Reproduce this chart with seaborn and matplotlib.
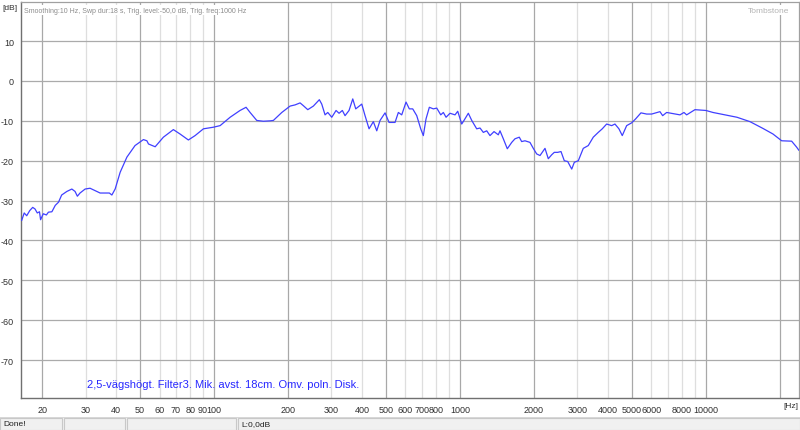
import matplotlib
matplotlib.use("Agg")
import matplotlib.pyplot as plt
import seaborn as sns
import pandas as pd
from matplotlib.patches import Rectangle

# frequency response (Hz, dB), ten values per row
freq_hz = [16.5, 16.9, 17.3, 17.8, 18.3, 18.7, 19.1, 19.5, 19.7, 20.2,
           20.8, 21.2, 21.9, 22.6, 23.3, 24.0, 25.2, 26.4, 27.2, 27.8,
           28.5, 29.9, 31.3, 32.8, 34.4, 36.1, 37.5, 38.4, 39.6, 41.5,
           44.2, 47.7, 51.6, 53.3, 54.1, 57.6, 62.2, 68.3, 72.7, 78.6,
           83.7, 90.5, 99.3, 105.8, 116.2, 127.5, 134.9, 140.1, 149.1, 158.6,
           168.9, 174.2, 188.5, 203.7, 213.5, 223.7, 230.7, 240.4, 253.3, 267.9,
           274.0, 282.6, 289.9, 301.0, 313.3, 322.2, 332.3, 340.8, 353.8, 366.3,
           376.7, 398.5, 411.0, 426.7, 444.2, 458.6, 473.0, 495.7, 514.6, 535.7,
           544.2, 561.4, 579.4, 603.2, 622.1, 642.2, 666.8, 692.2, 709.3, 727.5,
           750.4, 779.0, 804.2, 834.9, 855.5, 877.4, 910.7, 954.3, 978.8, 1016,
           1038, 1081, 1116, 1169, 1206, 1244, 1284, 1324, 1375, 1431,
           1454, 1500, 1557, 1623, 1673, 1742, 1781, 1837, 1925, 1986,
           2050, 2115, 2216, 2285, 2360, 2418, 2496, 2574, 2655, 2741,
           2846, 2916, 3027, 3171, 3323, 3482, 3648, 3788, 3947, 4136,
           4266, 4428, 4568, 4760, 4989, 5179, 5442, 5741, 6015, 6501,
           6668, 6922, 7842, 8141, 8348, 9022, 10000, 10680, 13370, 15100,
           17050, 18730, 20320, 22310, 23380, 23880]
level_db = [-35.0, -33.1, -33.8, -32.5, -31.7, -32.1, -33.1, -32.8, -34.8, -33.3,
            -33.6, -32.9, -32.8, -31.2, -30.4, -28.6, -27.7, -27.1, -27.7, -28.9,
            -28.1, -27.1, -26.9, -27.5, -28.1, -28.1, -28.1, -28.6, -27.1, -22.9,
            -19.1, -16.2, -14.7, -15.0, -15.8, -16.5, -14.1, -12.2, -13.3, -14.8,
            -13.7, -12.0, -11.6, -11.2, -9.1, -7.4, -6.6, -7.9, -9.9, -10.1,
            -10.0, -9.9, -7.9, -6.3, -6.0, -5.5, -6.2, -7.2, -6.3, -4.7,
            -5.8, -8.5, -7.9, -9.1, -7.4, -8.1, -7.4, -8.7, -7.4, -4.5,
            -7.0, -5.8, -8.7, -12.0, -10.2, -12.5, -9.9, -8.0, -10.4, -10.4,
            -10.4, -7.9, -8.5, -5.3, -7.0, -7.0, -8.7, -12.0, -13.7, -9.5,
            -6.6, -7.0, -6.8, -8.5, -7.9, -9.1, -8.1, -8.5, -7.6, -10.8,
            -9.9, -8.1, -9.9, -12.0, -11.8, -12.9, -12.5, -13.7, -12.7, -13.5,
            -12.5, -14.5, -17.0, -15.4, -14.5, -14.1, -15.2, -15.0, -15.4, -16.9,
            -18.3, -18.7, -16.9, -19.5, -18.5, -17.9, -17.9, -17.7, -20.0, -20.2,
            -22.1, -20.4, -20.0, -16.9, -16.2, -14.1, -12.9, -12.0, -10.8, -11.2,
            -10.8, -12.0, -13.7, -11.2, -10.5, -9.5, -8.0, -8.3, -8.3, -7.7,
            -8.7, -7.9, -8.5, -7.9, -8.5, -7.2, -7.4, -7.9, -9.1, -10.2,
            -11.9, -13.3, -15.0, -15.1, -16.6, -17.4]

dark_grid = [20, 50, 100, 200, 500, 1000, 2000, 5000, 10000, 20000]
light_grid = [30, 40, 60, 70, 80, 90, 300, 400, 600, 700, 800, 900,
              3000, 4000, 6000, 7000, 8000, 9000]
x_ticks = [20, 30, 40, 50, 60, 70, 80, 90, 100, 200, 300, 400, 500, 600, 700, 800, 900,
           1000, 2000, 3000, 4000, 5000, 6000, 7000, 8000, 9000, 10000, 20000]
x_labels = ["20", "30", "40", "50", "60", "70", "80", "90", "100", "200", "300", "400", "500",
            "600", "700", "800", "", "1000", "2000", "3000", "4000", "5000", "6000", "",
            "8000", "", "10000", ""]
y_ticks = [10, 0, -10, -20, -30, -40, -50, -60, -70]

df = pd.DataFrame({"freq": freq_hz, "db": level_db})

sns.set_style("white")
plt.rcParams['font.family'] = ['Liberation Sans', 'DejaVu Sans']

W, H = 800, 431
fig = plt.figure(figsize=(W / 100, H / 100), dpi=100)
ax = fig.add_axes([21 / W, (H - 399) / H, 778 / W, 396 / H])

ax.set_xscale("log")
ax.set_xlim(16.4, 23900)
ax.set_ylim(-79.5, 19.8)

for f in light_grid:
    ax.axvline(f, color="#dedede", lw=0.9, zorder=1)
for f in dark_grid:
    ax.axvline(f, color="#a8a8a8", lw=0.9, zorder=1)
for v in y_ticks:
    ax.axhline(v, color="#ababab", lw=0.9, zorder=1)

sns.lineplot(data=df, x="freq", y="db", sort=False, estimator=None,
             color="#4040ff", lw=0.9, ax=ax, zorder=3)

ax.set_xticks(x_ticks)
ax.set_xticklabels(x_labels)
ax.xaxis.set_minor_locator(matplotlib.ticker.NullLocator())
ax.set_yticks(y_ticks)
ax.set_yticklabels([str(v) for v in y_ticks])
ax.tick_params(axis="both", labelsize=6.5, colors="#505050", length=3, width=0.8,
               pad=2, direction="out")
ax.tick_params(axis="x", labelcolor="#303030")
ax.tick_params(axis="y", labelcolor="#303030")
ax.set_xlabel("")
ax.set_ylabel("")
for s in ["left", "bottom"]:
    ax.spines[s].set_color("#707070")
    ax.spines[s].set_linewidth(1.0)
for s in ["top", "right"]:
    ax.spines[s].set_color("#a0a0a0")
    ax.spines[s].set_linewidth(0.9)

ax.text(0.004, 0.988, "Smoothing:10 Hz, Swp dur:18 s, Trig. level:-50,0 dB, Trig. freq:1000 Hz",
        transform=ax.transAxes, fontsize=5.0, color="#8c8c8c", va="top", ha="left", zorder=4,
        bbox=dict(facecolor="white", edgecolor="none", pad=1.0))
ax.text(0.987, 0.988, "Tombstone", transform=ax.transAxes, fontsize=6.0, color="#b4b4b4",
        va="top", ha="right", zorder=4, bbox=dict(facecolor="white", edgecolor="none", pad=1.0))
ax.text(0.085, 0.022, "2,5-vägshögt. Filter3. Mik. avst. 18cm. Omv. poln. Disk.",
        transform=ax.transAxes, fontsize=8.0, color="#2828ff", va="bottom", ha="left", zorder=4)

fig.text(2 / W, 1 - 8 / H, "[dB]", fontsize=6, color="#303030", va="center", ha="left")
fig.text(798 / W, 1 - 407 / H, "[Hz]", fontsize=6, color="#303030", va="center", ha="right")

# status bar
bar_h = 12
fig.patches.append(Rectangle((0, 0), 1, (bar_h + 1) / H, transform=fig.transFigure,
                             facecolor="#f0f0f0", edgecolor="none"))
fig.patches.append(Rectangle((0, (bar_h + 0.5) / H), 1, 1 / H, transform=fig.transFigure,
                             facecolor="#d8d8d8", edgecolor="none"))
for x0, x1 in [(0, 62), (64, 125), (127, 236), (238, 800)]:
    fig.patches.append(Rectangle((x0 / W, 0), (x1 - x0) / W, bar_h / H, transform=fig.transFigure,
                                 facecolor="#f0f0f0", edgecolor="#c8c8c8", lw=0.8))
fig.text(3 / W, 6 / H, "Done!", fontsize=6, color="#202020", va="center", ha="left")
fig.text(241 / W, 6 / H, "L:0,0dB", fontsize=6, color="#202020", va="center", ha="left")

fig.savefig("out.png", dpi=100)
